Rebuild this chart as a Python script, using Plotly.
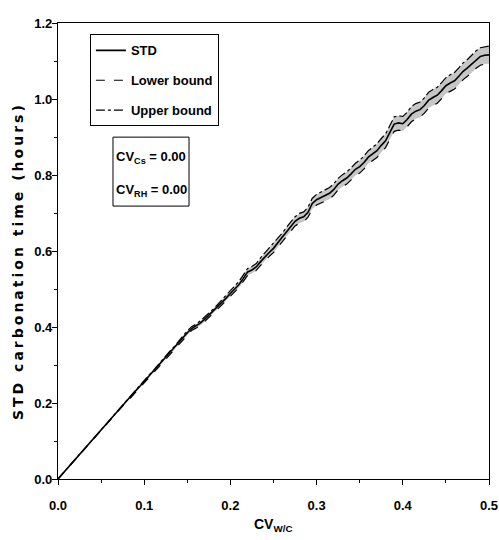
import plotly.graph_objects as go

# ---------------- data ----------------
cv_wc = [0.000, 0.005, 0.010, 0.015, 0.020, 0.025, 0.030, 0.035, 0.040, 0.045,
         0.050, 0.055, 0.060, 0.065, 0.070, 0.075, 0.080, 0.085, 0.090, 0.095,
         0.100, 0.105, 0.110, 0.115, 0.120, 0.125, 0.130, 0.135, 0.140, 0.145,
         0.150, 0.155, 0.160, 0.165, 0.170, 0.175, 0.180, 0.185, 0.190, 0.195,
         0.200, 0.205, 0.210, 0.215, 0.220, 0.225, 0.230, 0.235, 0.240, 0.245,
         0.250, 0.255, 0.260, 0.265, 0.270, 0.275, 0.280, 0.285, 0.290, 0.295,
         0.300, 0.305, 0.310, 0.315, 0.320, 0.325, 0.330, 0.335, 0.340, 0.345,
         0.350, 0.355, 0.360, 0.365, 0.370, 0.375, 0.380, 0.385, 0.390, 0.395,
         0.400, 0.405, 0.410, 0.415, 0.420, 0.425, 0.430, 0.435, 0.440, 0.445,
         0.450, 0.455, 0.460, 0.465, 0.470, 0.475, 0.480, 0.485, 0.490, 0.495,
         0.500]

std_time = [0.000, 0.013, 0.026, 0.039, 0.052, 0.066, 0.079, 0.092, 0.104, 0.117,
            0.130, 0.143, 0.155, 0.168, 0.181, 0.194, 0.206, 0.219, 0.232, 0.244,
            0.257, 0.269, 0.281, 0.294, 0.307, 0.320, 0.333, 0.345, 0.358, 0.372,
            0.385, 0.396, 0.402, 0.410, 0.420, 0.431, 0.441, 0.452, 0.465, 0.476,
            0.488, 0.500, 0.512, 0.528, 0.545, 0.550, 0.558, 0.572, 0.585, 0.596,
            0.607, 0.620, 0.636, 0.650, 0.664, 0.678, 0.686, 0.690, 0.702, 0.725,
            0.735, 0.741, 0.747, 0.752, 0.762, 0.776, 0.785, 0.792, 0.803, 0.815,
            0.822, 0.833, 0.847, 0.855, 0.864, 0.878, 0.890, 0.912, 0.934, 0.937,
            0.935, 0.946, 0.960, 0.968, 0.972, 0.983, 0.997, 1.004, 1.010, 1.022,
            1.035, 1.042, 1.048, 1.060, 1.073, 1.082, 1.092, 1.104, 1.112, 1.115,
            1.116]

# half-width of the lower/upper bound band
band_half = [0.000, 0.000, 0.001, 0.001, 0.001, 0.001, 0.001, 0.001, 0.001, 0.002,
             0.002, 0.002, 0.002, 0.002, 0.002, 0.002, 0.003, 0.003, 0.003, 0.003,
             0.003,
             0.003, 0.003, 0.004, 0.004, 0.004, 0.004, 0.004, 0.005, 0.005, 0.005,
             0.005, 0.005, 0.006, 0.006, 0.006, 0.006, 0.007, 0.007, 0.007, 0.007,
             0.008, 0.008, 0.008, 0.009, 0.009, 0.009, 0.010, 0.010, 0.010, 0.011,
             0.011, 0.011, 0.012, 0.012, 0.012, 0.013, 0.013, 0.013, 0.014, 0.014,
             0.014, 0.014, 0.015, 0.015, 0.015, 0.016, 0.016, 0.016, 0.016, 0.017,
             0.017, 0.017, 0.017, 0.018, 0.018, 0.018, 0.018, 0.019, 0.019, 0.019,
             0.019, 0.020, 0.020, 0.020, 0.020, 0.021, 0.021, 0.021, 0.021, 0.021,
             0.022, 0.022, 0.022, 0.022, 0.022, 0.023, 0.023, 0.023, 0.023, 0.023]

x_ticks = [0.0, 0.1, 0.2, 0.3, 0.4, 0.5]
y_ticks = [0.0, 0.2, 0.4, 0.6, 0.8, 1.0, 1.2]
legend_names = ["STD", "Lower bound", "Upper bound"]
x_title = "CV<sub>W/C</sub>"
y_title = "STD carbonation time (hours)"
cv_cs_text = "CV<sub>Cs</sub> = 0.00"
cv_rh_text = "CV<sub>RH</sub> = 0.00"

lower_bound = [s - h for s, h in zip(std_time, band_half)]
upper_bound = [s + h for s, h in zip(std_time, band_half)]

# ---------------- figure ----------------
SANS = "Liberation Sans, Arial, sans-serif"

fig = go.Figure()
# grey band
fig.add_trace(go.Scatter(x=cv_wc, y=lower_bound, mode="lines",
                         line=dict(width=0, color="rgba(0,0,0,0)"),
                         showlegend=False, hoverinfo="skip"))
fig.add_trace(go.Scatter(x=cv_wc, y=upper_bound, mode="lines",
                         line=dict(width=0, color="rgba(0,0,0,0)"),
                         fill="tonexty", fillcolor="#c6c6c6",
                         showlegend=False, hoverinfo="skip"))
fig.add_trace(go.Scatter(x=cv_wc, y=std_time, mode="lines", name=legend_names[0],
                         legendgroup="a", line=dict(color="black", width=1.6)))
fig.add_trace(go.Scatter(x=cv_wc, y=lower_bound, mode="lines", name=legend_names[1],
                         legendgroup="b", line=dict(color="black", width=1.2, dash="dash")))
fig.add_trace(go.Scatter(x=cv_wc, y=upper_bound, mode="lines", name=legend_names[2],
                         legendgroup="c", line=dict(color="black", width=1.2, dash="dashdot")))

tick_font = dict(family=SANS, size=13, color="black", weight="bold")

fig.update_xaxes(range=[0, 0.5], tickvals=x_ticks, ticktext=[f"{v:.1f}" for v in x_ticks],
                 ticks="outside", ticklen=5, tickwidth=1, tickcolor="black",
                 minor=dict(dtick=0.05, ticks="outside", ticklen=3, tickcolor="black"),
                 showline=True, linecolor="black", linewidth=1.2, mirror=True,
                 showgrid=False, zeroline=False, tickfont=tick_font,
                 ticklabelstandoff=9, ticklabeloverflow="allow", automargin=False)
fig.update_yaxes(range=[0, 1.2], tickvals=y_ticks, ticktext=[f"{v:.1f}" for v in y_ticks],
                 ticks="outside", ticklen=5, tickwidth=1, tickcolor="black",
                 minor=dict(dtick=0.1, ticks="outside", ticklen=3, tickcolor="black"),
                 showline=True, linecolor="black", linewidth=1.2, mirror=True,
                 showgrid=False, zeroline=False, tickfont=tick_font,
                 ticklabelstandoff=-3, automargin=False)

fig.update_layout(
    width=499, height=540,
    margin=dict(l=58, r=10, t=23, b=61, autoexpand=False),
    paper_bgcolor="white", plot_bgcolor="white",
    legend=dict(x=0.074, y=0.975, xanchor="left", yanchor="top",
                bgcolor="white", bordercolor="black", borderwidth=1,
                font=dict(family=SANS, size=13, color="black", weight="bold"),
                traceorder="grouped", tracegroupgap=10, itemwidth=30),
)

# axis titles
fig.add_annotation(text='<span style="letter-spacing:3px">' + y_title + '</span>',
                   xref="paper", yref="paper", x=-0.0928, y=0.478, textangle=-90,
                   xanchor="center", yanchor="middle", showarrow=False,
                   font=dict(family="DejaVu Sans, Liberation Sans, Arial", size=14,
                             color="black", weight="bold"))
fig.add_annotation(text=x_title, xref="paper", yref="paper", x=0.499, y=-0.100,
                   xanchor="center", yanchor="middle", showarrow=False,
                   font=dict(family=SANS, size=14, color="black", weight="bold"))

# CV box
fig.add_shape(type="rect", xref="paper", yref="paper",
              x0=0.1276, x1=0.304, y0=0.5985, y1=0.7497,
              line=dict(color="black", width=1), fillcolor="white", layer="above")
fig.add_annotation(text=cv_cs_text, xref="paper", yref="paper", x=0.2158, y=0.7059,
                   xanchor="center", yanchor="middle",
                   showarrow=False, font=dict(family=SANS, size=13, color="black", weight="bold"))
fig.add_annotation(text=cv_rh_text, xref="paper", yref="paper", x=0.2158, y=0.6336,
                   xanchor="center", yanchor="middle",
                   showarrow=False, font=dict(family=SANS, size=13, color="black", weight="bold"))

# remove the browser's default 8px body margin so the figure fills the window exactly
fig.write_html("out.html", config={"displayModeBar": False},
               post_script="document.body.style.margin='0';document.body.style.overflow='hidden';")
